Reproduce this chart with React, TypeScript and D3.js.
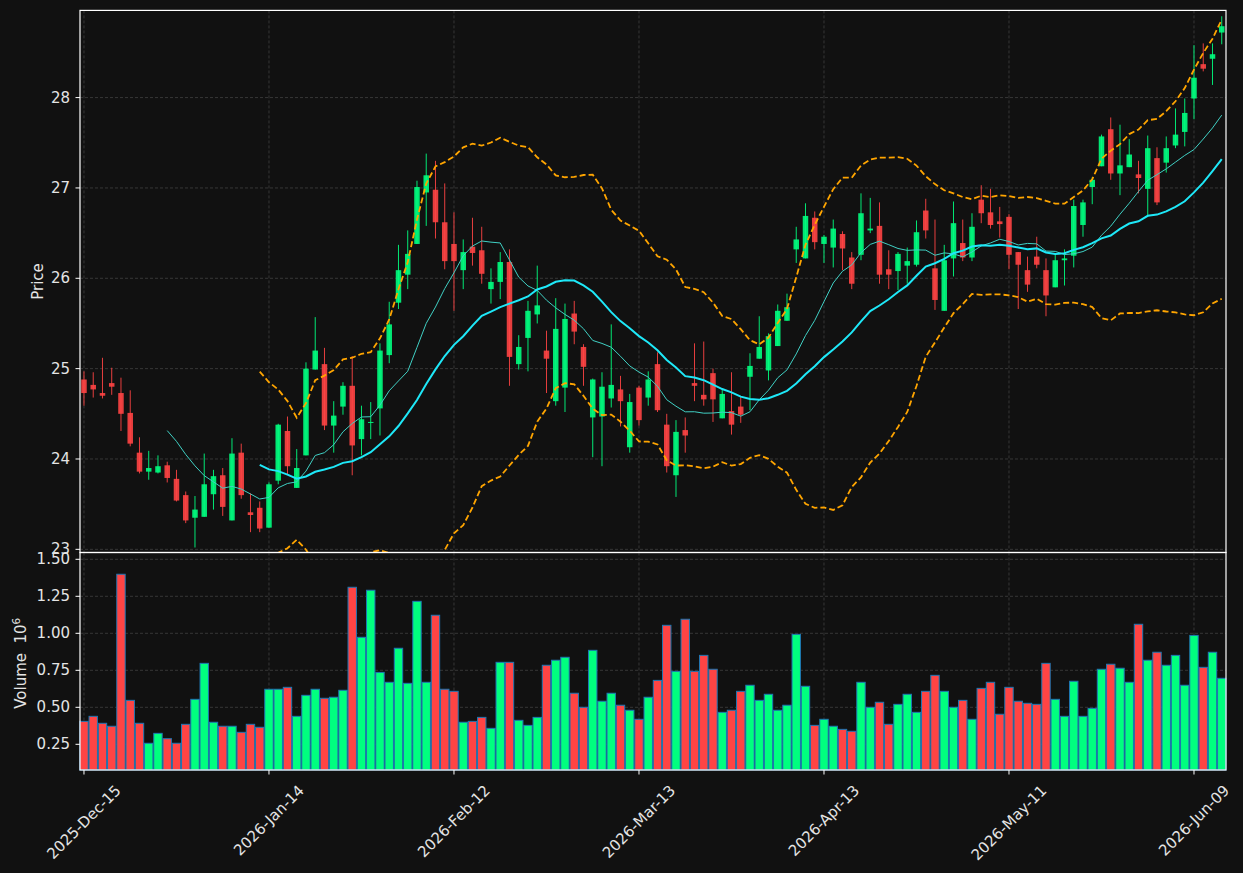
import * as d3 from "d3";
import { useEffect, useRef } from "react";

// daily OHLC, one entry per trading day starting 2025-12-15
const opens = [
  24.88, 24.82, 24.73, 24.84, 24.73, 24.51, 24.07, 23.86, 23.85, 23.93,
  23.78, 23.6, 23.35, 23.36, 23.61, 23.82, 23.32, 24.07, 23.41, 23.46,
  23.24, 23.76, 24.31, 23.68, 24.04, 24.99, 25.05, 24.37, 24.58, 24.81,
  24.22, 24.4, 24.56, 25.15, 25.73, 26.04, 26.38, 26.95, 26.98, 26.62,
  26.38, 26.09, 26.35, 26.31, 25.88, 25.96, 26.18, 25.05, 25.34, 25.6,
  25.2, 24.64, 24.79, 25.61, 25.24, 24.46, 24.47, 24.67, 24.77, 24.13,
  24.79, 24.68, 25.05, 24.38, 23.82, 24.32, 24.84, 24.71, 24.95, 24.45,
  24.53, 24.58, 24.91, 25.11, 24.98, 25.25, 25.53, 26.32, 26.22, 26.67,
  26.38, 26.34, 26.49, 26.23, 26.26, 26.53, 26.58, 26.1, 26.08, 26.14,
  26.15, 26.75, 26.11, 25.64, 26.22, 26.39, 26.23, 26.87, 26.73, 26.63,
  26.68, 26.29, 26.09, 26.24, 26.09, 25.9, 26.2, 26.25, 26.59, 27.01,
  27.24, 27.65, 27.16, 27.23, 27.15, 26.99, 27.33, 27.28, 27.47, 27.62,
  27.99, 28.37, 28.43, 28.72,
];
const highs = [
  24.97, 24.96, 25.12, 25.01, 24.9, 24.76, 24.24, 24.09, 24.04, 23.97,
  23.88, 23.64, 23.59, 24.06, 23.88, 23.9, 24.23, 24.17, 23.62, 23.53,
  23.74, 24.39, 24.47, 24.11, 25.07, 25.57, 25.23, 24.64, 24.85, 25.14,
  24.59, 24.63, 25.28, 25.74, 26.37, 26.53, 27.08, 27.38, 27.3, 27.05,
  26.73, 26.43, 26.67, 26.57, 26.11, 26.29, 26.32, 25.37, 25.75, 26.14,
  25.42, 25.78, 25.72, 25.75, 25.27, 24.89, 24.96, 25.49, 24.92, 24.72,
  24.81, 24.97, 25.18, 24.5, 24.43, 24.46, 25.28, 25.3, 25.0, 24.78,
  24.96, 24.69, 25.17, 25.58, 25.39, 25.71, 25.83, 26.57, 26.83, 26.74,
  26.48, 26.65, 26.52, 26.29, 26.94, 26.89, 26.84, 26.31, 26.29, 26.34,
  26.64, 26.88, 26.65, 26.37, 26.85, 26.65, 26.72, 27.03, 26.99, 26.79,
  26.71, 26.29, 26.24, 26.46, 26.22, 26.28, 26.32, 26.87, 26.87, 27.12,
  27.59, 27.78, 27.7, 27.54, 27.3, 27.58, 27.45, 27.57, 27.88, 27.99,
  28.58, 28.6, 28.6, 28.9,
];
const lows = [
  24.59, 24.68, 24.67, 24.71, 24.31, 24.14, 23.84, 23.77, 23.84, 23.74,
  23.53, 23.29, 23.02, 23.36, 23.44, 23.37, 23.32, 23.56, 23.19, 23.19,
  23.24, 23.72, 23.83, 23.68, 24.04, 24.99, 24.32, 24.07, 24.49, 23.82,
  24.04, 24.22, 24.26, 25.06, 25.66, 25.88, 26.38, 26.58, 26.44, 26.1,
  25.64, 25.88, 26.14, 25.94, 25.72, 25.77, 24.81, 24.99, 24.97, 25.5,
  24.73, 24.59, 24.52, 25.27, 24.81, 24.02, 23.92, 24.57, 24.36, 24.07,
  24.37, 24.59, 24.52, 23.85, 23.58, 24.07, 24.64, 24.59, 24.41, 24.45,
  24.27, 24.4, 24.54, 25.11, 24.87, 25.25, 25.53, 26.17, 26.22, 26.32,
  26.17, 26.12, 26.09, 25.88, 26.2, 26.5, 25.94, 25.88, 25.87, 25.94,
  26.13, 26.44, 25.65, 25.64, 26.02, 26.19, 26.19, 26.61, 26.55, 26.45,
  26.1, 25.66, 25.85, 26.11, 25.58, 25.9, 25.92, 26.12, 26.46, 26.82,
  27.24, 27.09, 26.92, 27.23, 26.94, 26.68, 26.81, 27.17, 27.44, 27.46,
  27.76, 28.29, 28.14, 28.59,
];
const closes = [
  24.73, 24.77, 24.7, 24.8, 24.5, 24.17, 23.86, 23.9, 23.92, 23.79,
  23.54, 23.32, 23.44, 23.72, 23.81, 23.47, 24.06, 23.6, 23.38, 23.23,
  23.72, 24.38, 23.92, 23.9, 25.0, 25.2, 24.37, 24.48, 24.81, 24.15,
  24.44, 24.41, 25.2, 25.49, 26.09, 26.27, 27.01, 27.14, 26.62, 26.19,
  26.19, 26.29, 26.28, 26.05, 25.96, 26.18, 25.13, 25.24, 25.64, 25.7,
  25.11, 25.44, 25.55, 25.41, 25.02, 24.88, 24.8, 24.82, 24.64, 24.63,
  24.43, 24.88, 24.54, 23.92, 24.3, 24.26, 24.81, 24.66, 24.66, 24.72,
  24.38, 24.49, 25.03, 25.24, 25.36, 25.64, 25.68, 26.43, 26.69, 26.4,
  26.46, 26.55, 26.33, 25.94, 26.72, 26.55, 26.04, 26.04, 26.27, 26.19,
  26.51, 26.53, 25.76, 26.2, 26.61, 26.23, 26.57, 26.72, 26.59, 26.6,
  26.26, 26.15, 25.93, 26.15, 25.81, 26.2, 26.22, 26.8, 26.84, 27.09,
  27.57, 27.16, 27.25, 27.37, 27.11, 27.44, 26.84, 27.44, 27.59, 27.83,
  28.22, 28.32, 28.48, 28.79,
];
const volumes = [
  405000, 439000, 392000, 372000, 1399000, 547000, 392000, 257000, 324000, 288000,
  257000, 385000, 554000, 797000, 399000, 372000, 372000, 331000, 385000, 365000,
  622000, 622000, 635000, 439000, 581000, 622000, 561000, 568000, 615000, 1311000,
  973000, 1291000, 736000, 669000, 899000, 662000, 1216000, 669000, 1122000, 622000,
  608000, 399000, 405000, 432000, 358000, 804000, 804000, 412000, 378000, 432000,
  784000, 818000, 838000, 595000, 500000, 885000, 541000, 595000, 514000, 480000,
  419000, 568000, 682000, 1054000, 743000, 1095000, 743000, 851000, 757000, 466000,
  480000, 608000, 649000, 547000, 588000, 480000, 514000, 993000, 642000, 378000,
  419000, 372000, 351000, 338000, 669000, 500000, 534000, 385000, 520000, 588000,
  466000, 608000, 716000, 608000, 500000, 547000, 419000, 628000, 669000, 453000,
  635000, 541000, 527000, 520000, 797000, 554000, 439000, 676000, 439000, 493000,
  757000, 791000, 764000, 669000, 1061000, 818000, 872000, 784000, 851000, 649000,
  986000, 770000, 872000, 696000,
];

const tickIdx = [0, 20, 40, 60, 80, 100, 120];
const tickLabels = [
  "2025-Dec-15",
  "2026-Jan-14",
  "2026-Feb-12",
  "2026-Mar-13",
  "2026-Apr-13",
  "2026-May-11",
  "2026-Jun-09",
];
const priceTicks = [23, 24, 25, 26, 27, 28];
const volTicks = [0.25, 0.5, 0.75, 1.0, 1.25, 1.5];

const UP = "#00ff7f";
const DOWN = "#ff4444";
const FONT = "DejaVu Sans, sans-serif";
const TXT = "#e4e4e4";

const rolling = (n: number, fn: (w: number[]) => number) =>
  closes.map((_, i) => (i < n - 1 ? null : fn(closes.slice(i - n + 1, i + 1))));

const App = () => {
  const ref = useRef<SVGSVGElement>(null);

  useEffect(() => {
    document.body.style.margin = "0";
    document.body.style.background = "#111111";
    const svg = d3.select(ref.current);
    svg.selectAll("*").remove();

    const left = 80;
    const right = 1226;
    const pTop = 10.4;
    const pBot = 552.5;
    const vBot = 770;

    const x = d3.scaleLinear().domain([-0.43, 123.46]).range([left, right]);
    const yP = d3.scaleLinear().domain([22.965, 28.965]).range([pBot, pTop]);
    const yV = d3.scaleLinear().domain([0.0764, 1.546]).range([vBot, pBot]);

    svg.append("rect").attr("width", 1243).attr("height", 873).attr("fill", "#111111");

    svg
      .append("defs")
      .append("clipPath")
      .attr("id", "pclip")
      .append("rect")
      .attr("x", left)
      .attr("y", pTop)
      .attr("width", right - left)
      .attr("height", pBot - pTop);

    // grid
    const grid = svg.append("g").attr("stroke", "#404040").attr("stroke-width", 0.8).attr("stroke-dasharray", "3,2");
    priceTicks.forEach((t) =>
      grid.append("line").attr("x1", left).attr("x2", right).attr("y1", yP(t)).attr("y2", yP(t))
    );
    volTicks.forEach((t) =>
      grid.append("line").attr("x1", left).attr("x2", right).attr("y1", yV(t)).attr("y2", yV(t))
    );
    tickIdx.forEach((i) => {
      grid.append("line").attr("x1", x(i)).attr("x2", x(i)).attr("y1", pTop).attr("y2", pBot);
      grid.append("line").attr("x1", x(i)).attr("x2", x(i)).attr("y1", pBot).attr("y2", vBot);
    });

    // Candles
    const cg = svg.append("g").attr("clip-path", "url(#pclip)");
    closes.forEach((c, i) => {
      const o = opens[i];
      const col = c >= o ? UP : DOWN;
      cg.append("line")
        .attr("x1", x(i))
        .attr("x2", x(i))
        .attr("y1", yP(highs[i]))
        .attr("y2", yP(lows[i]))
        .attr("stroke", col)
        .attr("stroke-opacity", 0.9)
        .attr("stroke-width", 1);
      const top = yP(Math.max(o, c));
      const h = Math.max(1, Math.abs(yP(o) - yP(c)));
      cg.append("rect")
        .attr("x", x(i) - 2.75)
        .attr("width", 5.5)
        .attr("y", top)
        .attr("height", h)
        .attr("fill", col)
        .attr("fill-opacity", 0.9);
    });

    // moving averages and bollinger bands
    const ma10 = rolling(10, (w) => d3.mean(w) as number);
    const ma20 = rolling(20, (w) => d3.mean(w) as number);
    const sd20 = rolling(20, (w) => d3.deviation(w) as number);
    const upper = ma20.map((m, i) => (m == null ? null : m + 2 * (sd20[i] as number)));
    const lower = ma20.map((m, i) => (m == null ? null : m - 2 * (sd20[i] as number)));

    const line = d3
      .line<number | null>()
      .defined((d) => d != null)
      .x((_, i) => x(i))
      .y((d) => yP(d as number));

    cg.append("path").attr("d", line(ma10)).attr("fill", "none").attr("stroke", "#40d0c4").attr("stroke-width", 1);
    cg.append("path").attr("d", line(ma20)).attr("fill", "none").attr("stroke", "#1ee8f8").attr("stroke-width", 2);
    [upper, lower].forEach((b) =>
      cg
        .append("path")
        .attr("d", line(b))
        .attr("fill", "none")
        .attr("stroke", "#ffa500")
        .attr("stroke-width", 1.8)
        .attr("stroke-dasharray", "6,3")
    );

    // Volume bars
    svg
      .append("g")
      .selectAll("rect")
      .data(volumes)
      .join("rect")
      .attr("x", (_, i) => x(i) - 4.2)
      .attr("width", 8.4)
      .attr("y", (v) => yV(v / 1e6))
      .attr("height", (v) => vBot - yV(v / 1e6))
      .attr("fill", (_, i) => (closes[i] >= opens[i] ? UP : DOWN))
      .attr("stroke", "#1f77b4")
      .attr("stroke-width", 1);

    // frames
    const frame = svg.append("g").attr("fill", "none").attr("stroke", "#ffffff").attr("stroke-width", 1.2);
    frame.append("rect").attr("x", left).attr("y", pTop).attr("width", right - left).attr("height", pBot - pTop);
    frame.append("rect").attr("x", left).attr("y", pBot).attr("width", right - left).attr("height", vBot - pBot);

    // y ticks
    const ax = svg.append("g").attr("font-family", FONT).attr("font-size", 15).attr("fill", TXT);
    const tickMark = (x1: number, y1: number, x2: number, y2: number) =>
      ax.append("line").attr("x1", x1).attr("y1", y1).attr("x2", x2).attr("y2", y2).attr("stroke", "#ffffff").attr("stroke-width", 1);
    priceTicks.forEach((t) => {
      tickMark(left - 4.5, yP(t), left, yP(t));
      ax.append("text").attr("x", left - 10).attr("y", yP(t)).attr("text-anchor", "end").attr("dominant-baseline", "central").text(t);
    });
    volTicks.forEach((t) => {
      tickMark(left - 4.5, yV(t), left, yV(t));
      ax.append("text")
        .attr("x", left - 10)
        .attr("y", yV(t))
        .attr("text-anchor", "end")
        .attr("dominant-baseline", "central")
        .text(d3.format(".2f")(t));
    });

    // x ticks
    tickIdx.forEach((i, k) => {
      tickMark(x(i), vBot, x(i), vBot + 4.5);
      const t = ax.append("text").attr("text-anchor", "middle").attr("dominant-baseline", "central").text(tickLabels[k]);
      const L = (t.node() as SVGTextElement).getComputedTextLength();
      const cy = vBot + 14 + (L + 11) / (2 * Math.SQRT2);
      t.attr("transform", `translate(${x(i)},${cy}) rotate(-45)`);
    });

    // axis labels
    ax.append("text").attr("transform", `translate(42.5,${(pTop + pBot) / 2}) rotate(-90)`).attr("text-anchor", "middle").text("Price");
    const vl = ax.append("text").attr("transform", `translate(26,${(pBot + vBot) / 2 + 2}) rotate(-90)`).attr("text-anchor", "middle");
    vl.append("tspan").text("Volume\u00a0\u00a010");
    vl.append("tspan").attr("font-size", 10.5).attr("dy", -6).text("6");
  }, []);

  return <svg ref={ref} width={1243} height={873} style={{ display: "block" }} />;
};

export default App;
